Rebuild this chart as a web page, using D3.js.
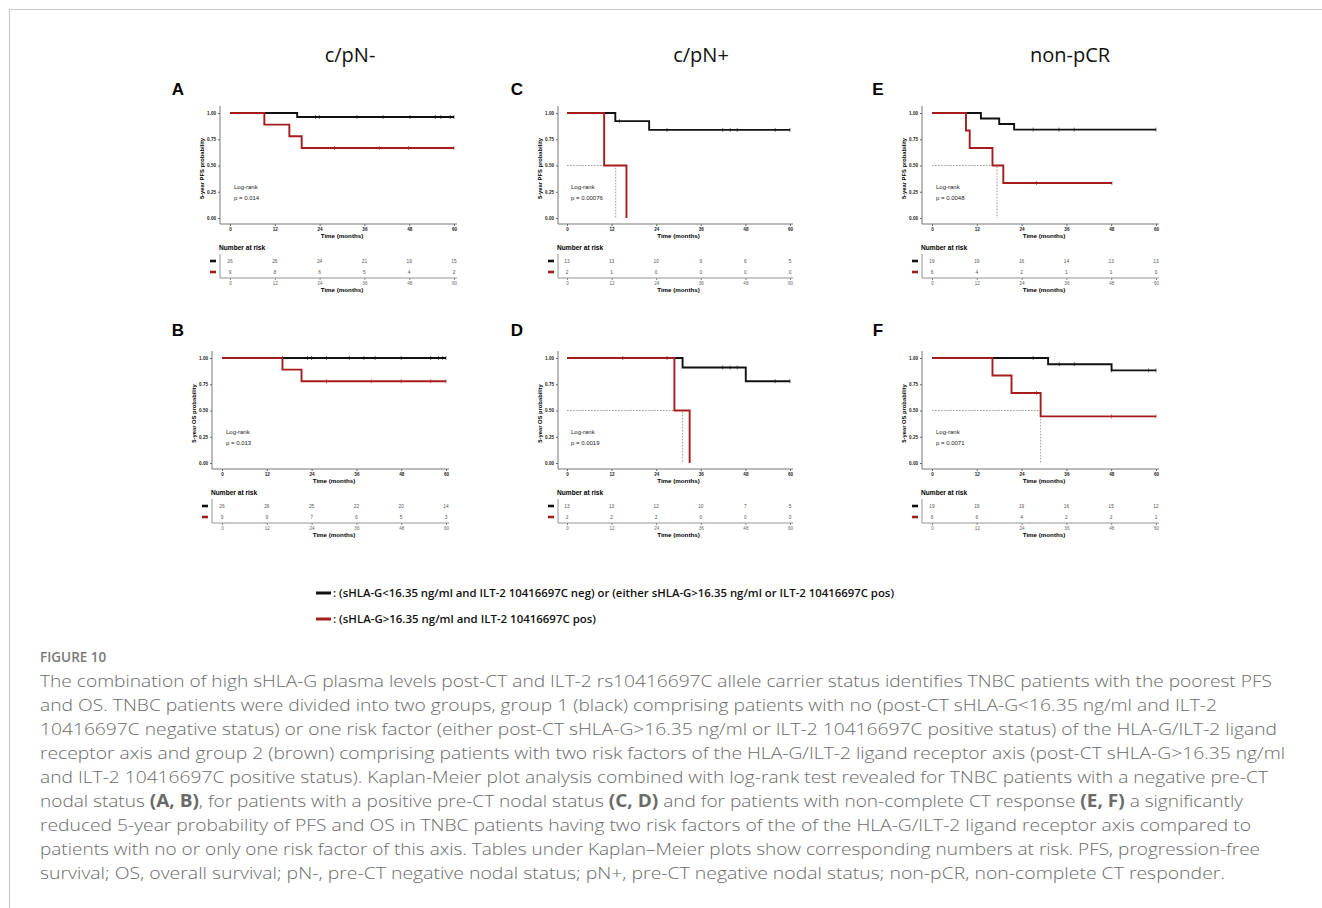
<!DOCTYPE html>
<html lang="en">
<head>
  <meta charset="UTF-8">
  <title>Figure 10 - Kaplan-Meier</title>
  <script src="https://d3js.org/d3.v7.min.js"></script>
  <style>
    body { margin: 0; background: #fff; }
    svg { display: block; }
    .tiny { font-family: "Liberation Sans", Arial, sans-serif; }
  </style>
</head>
<body>
<svg id="fig" width="1322" height="908"></svg>
<script>
  // ---- data ----
  const months = [0, 12, 24, 36, 48, 60];
  const probTicks = [0, 0.25, 0.5, 0.75, 1];
  const columnTitles = ["c/pN-", "c/pN+", "non-pCR"];

  // steps: [time, survival after drop]; last entry = end of follow-up
  const stepsA_black = [[0, 1], [18, 0.962], [60, 0.962]];
  const censA_black  = [22.9, 23.9, 34, 41, 48.2, 55, 56.5, 59, 60];
  const stepsA_red   = [[0, 1], [9.2, 0.889], [15.9, 0.778], [19.2, 0.667], [60, 0.667]];
  const censA_red    = [28, 40, 47.8, 60];
  const riskA_black  = [26, 26, 24, 21, 19, 15];
  const riskA_red    = [9, 8, 6, 5, 4, 2];

  const stepsB_black = [[0, 1], [60, 1]];
  const censB_black  = [16.2, 22.9, 24, 28, 34.1, 38, 41, 48, 55.9, 58, 59.1, 60];
  const stepsB_red   = [[0, 1], [16.2, 0.889], [21.3, 0.778], [60, 0.778]];
  const censB_red    = [28, 40, 48, 55.9, 60];
  const riskB_black  = [26, 26, 25, 22, 20, 14];
  const riskB_red    = [9, 9, 7, 6, 5, 3];

  const stepsC_black = [[0, 1], [13, 0.923], [22.1, 0.839], [60, 0.839]];
  const censC_black  = [14.1, 26.9, 41.9, 43.9, 45.8, 56, 60];
  const stepsC_red   = [[0, 1], [10, 0.5], [16, 0], [16, 0]];
  const censC_red    = [];
  const medianC      = 13.1;
  const riskC_black  = [13, 13, 10, 9, 6, 5];
  const riskC_red    = [2, 1, 0, 0, 0, 0];

  const stepsD_black = [[0, 1], [31.1, 0.909], [48.1, 0.779], [60, 0.779]];
  const censD_black  = [15, 26.9, 41.9, 43.9, 45.8, 56, 60];
  const stepsD_red   = [[0, 1], [28.9, 0.5], [33, 0], [33, 0]];
  const censD_red    = [];
  const medianD      = 31.1;
  const riskD_black  = [13, 13, 12, 10, 7, 5];
  const riskD_red    = [2, 2, 2, 0, 0, 0];

  const stepsE_black = [[0, 1], [13.1, 0.947], [18, 0.895], [22, 0.842], [60, 0.842]];
  const censE_black  = [27.1, 34, 38.1, 60];
  const stepsE_red   = [[0, 1], [9.1, 0.833], [10.1, 0.667], [16.2, 0.5], [19.1, 0.333], [48.2, 0.333]];
  const censE_red    = [28, 48.2];
  const medianE      = 17.4;
  const riskE_black  = [19, 19, 16, 14, 13, 13];
  const riskE_red    = [6, 4, 2, 1, 1, 0];

  const stepsF_black = [[0, 1], [31.1, 0.941], [48.1, 0.882], [60, 0.882]];
  const censF_black  = [27.1, 34.1, 38.1, 48.1, 58, 60];
  const stepsF_red   = [[0, 1], [16.2, 0.833], [21.3, 0.667], [29.1, 0.444], [60, 0.444]];
  const censF_red    = [28, 48.1, 60];
  const medianF      = 29.1;
  const riskF_black  = [19, 19, 19, 16, 15, 12];
  const riskF_red    = [6, 6, 4, 2, 2, 1];

  const pValues = { A: "0.014", B: "0.013", C: "0.00076", D: "0.0019", E: "0.0048", F: "0.0071" };

  const captionLines = [
    "The combination of high sHLA-G plasma levels post-CT and ILT-2 rs10416697C allele carrier status identifies TNBC patients with the poorest PFS",
    "and OS. TNBC patients were divided into two groups, group 1 (black) comprising patients with no (post-CT sHLA-G<16.35 ng/ml and ILT-2",
    "10416697C negative status) or one risk factor (either post-CT sHLA-G>16.35 ng/ml or ILT-2 10416697C positive status) of the HLA-G/ILT-2 ligand",
    "receptor axis and group 2 (brown) comprising patients with two risk factors of the HLA-G/ILT-2 ligand receptor axis (post-CT sHLA-G>16.35 ng/ml",
    "and ILT-2 10416697C positive status). Kaplan-Meier plot analysis combined with log-rank test revealed for TNBC patients with a negative pre-CT",
    "nodal status |(A, B)|, for patients with a positive pre-CT nodal status |(C, D)| and for patients with non-complete CT response |(E, F)| a significantly",
    "reduced 5-year probability of PFS and OS in TNBC patients having two risk factors of the of the HLA-G/ILT-2 ligand receptor axis compared to",
    "patients with no or only one risk factor of this axis. Tables under Kaplan\u2013Meier plots show corresponding numbers at risk. PFS, progression-free",
    "survival; OS, overall survival; pN-, pre-CT negative nodal status; pN+, pre-CT negative nodal status; non-pCR, non-complete CT responder."
  ];
  const captionEnds = [1272, 1217, 1277, 1285, 1268, 1243, 1251, 1260, 1225];

  const BLACK = "#111";
  const RED = "#a61c1c";

  const svg = d3.select("#fig");

  // page frame
  svg.append("path").attr("d", "M9.5,908 V9.5 H1322")
    .attr("fill", "none").attr("stroke", "#c8c8c8").attr("stroke-width", 1.2);

  // column titles
  const titleX = [350, 701, 1070];
  svg.selectAll("text.coltitle").data(columnTitles).join("text")
    .attr("class", "coltitle")
    .attr("x", (d, i) => titleX[i]).attr("y", 62)
    .attr("text-anchor", "middle")
    .attr("font-family", "'Open Sans', sans-serif")
    .attr("font-size", 20).attr("fill", "#111")
    .text(d => d);

  const panels = [
    { id: "A", lx: 178, ly: 89, axisX: 220, x0: 230, x60: 454, top: 113, ylab: "5-year PFS probability",
      black: stepsA_black, cb: censA_black, red: stepsA_red, cr: censA_red, rb: riskA_black, rr: riskA_red },
    { id: "B", lx: 178, ly: 330, axisX: 212, x0: 222, x60: 446, top: 358, ylab: "5-year OS probability",
      black: stepsB_black, cb: censB_black, red: stepsB_red, cr: censB_red, rb: riskB_black, rr: riskB_red },
    { id: "C", lx: 517, ly: 89, axisX: 558, x0: 567, x60: 790, top: 113, ylab: "5-year PFS probability",
      black: stepsC_black, cb: censC_black, red: stepsC_red, cr: censC_red, rb: riskC_black, rr: riskC_red, median: medianC },
    { id: "D", lx: 517, ly: 330, axisX: 558, x0: 567, x60: 790, top: 358, ylab: "5-year OS probability",
      black: stepsD_black, cb: censD_black, red: stepsD_red, cr: censD_red, rb: riskD_black, rr: riskD_red, median: medianD },
    { id: "E", lx: 878, ly: 89, axisX: 922, x0: 932, x60: 1156, top: 113, ylab: "5-year PFS probability",
      black: stepsE_black, cb: censE_black, red: stepsE_red, cr: censE_red, rb: riskE_black, rr: riskE_red, median: medianE },
    { id: "F", lx: 878, ly: 330, axisX: 922, x0: 932, x60: 1156, top: 358, ylab: "5-year OS probability",
      black: stepsF_black, cb: censF_black, red: stepsF_red, cr: censF_red, rb: riskF_black, rr: riskF_red, median: medianF }
  ];

  function survAt(steps, t) {
    let s = steps[0][1];
    steps.forEach(d => { if (d[0] <= t) s = d[1]; });
    return s;
  }

  function drawPanel(p) {
    const g = svg.append("g").attr("class", "tiny");
    const x = d3.scaleLinear().domain([0, 60]).range([p.x0, p.x60]);
    const y = d3.scaleLinear().domain([0, 1]).range([p.top + 105, p.top]);
    const axisY = p.top + 111;

    // panel letter
    svg.append("text").attr("x", p.lx).attr("y", p.ly).attr("dy", "0.35em")
      .attr("text-anchor", "middle")
      .attr("font-family", "'Liberation Sans', Arial, sans-serif")
      .attr("font-weight", "bold").attr("font-size", 17).text(p.id);

    // y axis
    const ya = g.append("g").attr("transform", `translate(${p.axisX},0)`)
      .call(d3.axisLeft(y).tickValues(probTicks).tickFormat(d3.format(".2f")).tickSize(2).tickPadding(2));
    ya.select(".domain").remove();
    ya.selectAll("text").attr("font-size", 4.6).attr("font-weight", "bold").attr("fill", "#222");
    ya.selectAll("line").attr("stroke", "#666");
    g.append("line").attr("x1", p.axisX).attr("x2", p.axisX)
      .attr("y1", p.top - 7).attr("y2", axisY).attr("stroke", "#777").attr("stroke-width", 1);

    // x axis
    const xa = g.append("g").attr("transform", `translate(0,${axisY})`)
      .call(d3.axisBottom(x).tickValues(months).tickSize(2).tickPadding(1.5));
    xa.select(".domain").remove();
    xa.selectAll("text").attr("font-size", 4.6).attr("font-weight", "bold").attr("fill", "#222");
    xa.selectAll("line").attr("stroke", "#666");
    g.append("line").attr("x1", p.axisX).attr("x2", p.x60 + 3)
      .attr("y1", axisY).attr("y2", axisY).attr("stroke", "#777").attr("stroke-width", 1);

    g.append("text").attr("x", (p.x0 + p.x60) / 2).attr("y", p.top + 123).attr("dy", "0.35em")
      .attr("text-anchor", "middle").attr("font-size", 6.2).attr("font-weight", "bold").text("Time (months)");

    g.append("text").attr("transform", `translate(${p.axisX - 18},${(p.top + axisY) / 2}) rotate(-90)`)
      .attr("dy", "0.35em").attr("text-anchor", "middle")
      .attr("font-size", 5.8).attr("font-weight", "bold").text(p.ylab);

    // median dashed guide
    if (p.median !== undefined) {
      g.append("path")
        .attr("d", `M${x(0)},${y(0.5)} H${x(p.median)} V${y(0)}`)
        .attr("fill", "none").attr("stroke", "#777").attr("stroke-width", 0.7)
        .attr("stroke-dasharray", "1.6,1.4");
    }

    // curves
    const line = d3.line().x(d => x(d[0])).y(d => y(d[1])).curve(d3.curveStepAfter);
    [[p.black, p.cb, BLACK], [p.red, p.cr, RED]].forEach(([steps, cens, col]) => {
      g.append("path").attr("d", line(steps)).attr("fill", "none")
        .attr("stroke", col).attr("stroke-width", 1.9);
      g.selectAll(null).data(cens).join("line")
        .attr("x1", d => x(d)).attr("x2", d => x(d))
        .attr("y1", d => y(survAt(steps, d)) - 2).attr("y2", d => y(survAt(steps, d)) + 2)
        .attr("stroke", col).attr("stroke-width", 0.6);
    });

    // log-rank text
    g.append("text").attr("x", x(0) + 4).attr("y", y(0.3)).attr("dy", "0.35em")
      .attr("font-size", 6).attr("fill", "#222").text("Log-rank");
    g.append("text").attr("x", x(0) + 4).attr("y", y(0.195)).attr("dy", "0.35em")
      .attr("font-size", 6).attr("fill", "#222").text("p = " + pValues[p.id]);

    // risk table
    g.append("text").attr("x", p.axisX - 1).attr("y", p.top + 135).attr("dy", "0.35em")
      .attr("font-size", 6.6).attr("font-weight", "bold").text("Number at risk");
    const rows = [[p.rb, p.top + 148, BLACK], [p.rr, p.top + 159, RED]];
    rows.forEach(([vals, ry, col]) => {
      g.selectAll(null).data(vals).join("text")
        .attr("x", (d, i) => x(months[i])).attr("y", ry).attr("dy", "0.35em")
        .attr("text-anchor", "middle").attr("font-size", 4.8).attr("fill", "#555")
        .text(d => d);
      g.append("line").attr("x1", p.axisX - 10).attr("x2", p.axisX - 4)
        .attr("y1", ry).attr("y2", ry).attr("stroke", col).attr("stroke-width", 2.6);
    });
    const tY = p.top + 165;
    g.append("line").attr("x1", p.axisX).attr("x2", p.axisX)
      .attr("y1", p.top + 141).attr("y2", tY).attr("stroke", "#888").attr("stroke-width", 0.9);
    const ta = g.append("g").attr("transform", `translate(0,${tY})`)
      .call(d3.axisBottom(x).tickValues(months).tickSize(2).tickPadding(1.5));
    ta.select(".domain").remove();
    ta.selectAll("text").attr("font-size", 4.6).attr("fill", "#666");
    ta.selectAll("line").attr("stroke", "#888");
    g.append("line").attr("x1", p.axisX).attr("x2", p.x60 + 3)
      .attr("y1", tY).attr("y2", tY).attr("stroke", "#888").attr("stroke-width", 0.9);
    g.append("text").attr("x", (p.x0 + p.x60) / 2).attr("y", p.top + 177).attr("dy", "0.35em")
      .attr("text-anchor", "middle").attr("font-size", 6.2).attr("font-weight", "bold").text("Time (months)");
  }

  panels.forEach(drawPanel);

  // legend
  const legend = [
    { y: 593, col: BLACK, text: ": (sHLA-G<16.35 ng/ml and ILT-2 10416697C neg) or (either sHLA-G>16.35 ng/ml or ILT-2 10416697C pos)", end: 894 },
    { y: 619, col: RED, text: ": (sHLA-G>16.35 ng/ml and ILT-2 10416697C pos)", end: 596 }
  ];
  legend.forEach(l => {
    svg.append("line").attr("x1", 316).attr("x2", 331).attr("y1", l.y).attr("y2", l.y)
      .attr("stroke", l.col).attr("stroke-width", 3);
    svg.append("text").attr("x", 333).attr("y", l.y).attr("dy", "0.35em")
      .attr("font-family", "'Open Sans', sans-serif").attr("font-weight", 600)
      .attr("font-size", 11.5).attr("fill", "#111")
      .attr("textLength", l.end - 333).attr("lengthAdjust", "spacingAndGlyphs")
      .text(l.text);
  });

  // caption
  svg.append("text").attr("x", 40).attr("y", 662)
    .attr("font-family", "'Open Sans', sans-serif").attr("font-size", 13.5)
    .attr("font-weight", 600).attr("fill", "#7a7a7a").text("FIGURE 10");

  captionLines.forEach((ln, i) => {
    const t = svg.append("text").attr("x", 40).attr("y", 687 + i * 24)
      .attr("font-family", "'Open Sans', sans-serif").attr("font-size", 17)
      .attr("font-weight", 300).attr("fill", "#6a6a6a")
      .attr("textLength", captionEnds[i] - 40).attr("lengthAdjust", "spacingAndGlyphs");
    ln.split("|").forEach((part, k) => {
      t.append("tspan").attr("font-weight", k % 2 ? 700 : 300).text(part);
    });
  });
</script>
</body>
</html>
